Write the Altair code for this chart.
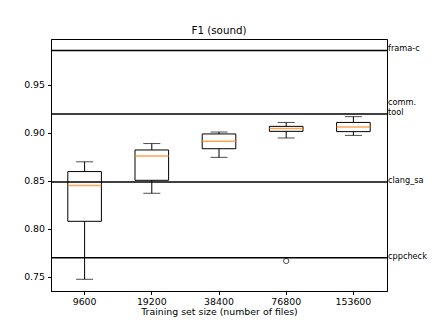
import altair as alt
import pandas as pd

categories = ["9600", "19200", "38400", "76800", "153600"]
whisker_low = [0.7476, 0.8372, 0.8746, 0.8948, 0.8975]
q1 = [0.8080, 0.8507, 0.8836, 0.9017, 0.9014]
median = [0.8452, 0.8760, 0.8913, 0.9048, 0.9063]
q3 = [0.8598, 0.8823, 0.8990, 0.9069, 0.9110]
whisker_high = [0.8700, 0.8890, 0.9010, 0.9110, 0.9170]

outlier_cat = ["76800"]
outlier_val = [0.7667]

baseline_names = ["frama-c", "comm.\ntool", "clang_sa", "cppcheck"]
baseline_vals = [0.986, 0.9198, 0.849, 0.770]

y_ticks = [0.75, 0.80, 0.85, 0.90, 0.95]

W, H = 336, 252
FONT = "DejaVu Sans"
LBL = 8.2

boxes = pd.DataFrame({
    "size": categories, "lo": whisker_low, "q1": q1, "med": median,
    "q3": q3, "hi": whisker_high,
})
outliers = pd.DataFrame({"size": outlier_cat, "v": outlier_val})
baselines = pd.DataFrame({"name": baseline_names, "v": baseline_vals})

yscale = alt.Scale(domain=[0.7354, 0.9979], nice=False, zero=False)
xscale = alt.Scale(domain=categories, paddingInner=0, paddingOuter=0)

x_enc = alt.X("size:N", scale=xscale, sort=categories,
              axis=alt.Axis(title="Training set size (number of files)", labelAngle=0,
                            domainColor="black", tickColor="black", tickSize=3.5,
                            labelColor="black", titleColor="black", labelFontSize=9.4,
                            titleFontSize=9.4, titleFontWeight="normal", labelFont=FONT,
                            titleFont=FONT, labelPadding=3, titlePadding=2))
y_axis = alt.Axis(title=None, values=y_ticks, format=".2f", grid=False,
                  domainColor="black", tickColor="black", tickSize=3.5,
                  labelColor="black", labelFontSize=9.4, labelFont=FONT, labelPadding=3)

base = alt.Chart(boxes)

whisk_lo = base.mark_rule(color="black", strokeWidth=1).encode(
    x=x_enc, y=alt.Y("lo:Q", scale=yscale, axis=y_axis), y2="q1:Q")
whisk_hi = base.mark_rule(color="black", strokeWidth=1).encode(
    x="size:N", y="q3:Q", y2="hi:Q")
cap_lo = base.mark_tick(color="black", size=17, thickness=1).encode(x="size:N", y="lo:Q")
cap_hi = base.mark_tick(color="black", size=17, thickness=1).encode(x="size:N", y="hi:Q")
box = base.mark_bar(fill="transparent", stroke="black", strokeWidth=1,
                    width=alt.RelativeBandSize(0.5)).encode(x="size:N", y="q1:Q", y2="q3:Q")
med = base.mark_tick(color="#ff7f0e", size=34, thickness=1.5).encode(x="size:N", y="med:Q")

outl = alt.Chart(outliers).mark_point(shape="circle", filled=False, color="black",
                                      size=28, strokeWidth=1).encode(x="size:N", y="v:Q")

rules = alt.Chart(baselines).mark_rule(color="black", strokeWidth=1.5).encode(
    y="v:Q", x=alt.value(0), x2=alt.value(W))

lbl_base = alt.Chart(baselines).transform_calculate(
    lines="split(datum.name, '\\n')", n="length(split(datum.name, '\\n'))"
)
labels_single = lbl_base.transform_filter("datum.n == 1").mark_text(
    align="left", baseline="alphabetic", fontSize=LBL, font=FONT,
    color="black", dx=1, dy=1).encode(y="v:Q", x=alt.value(W), text="name:N")
labels_multi = lbl_base.transform_filter("datum.n > 1").mark_text(
    align="left", baseline="alphabetic", fontSize=LBL, font=FONT,
    color="black", dx=1, dy=-9, lineHeight=10).encode(y="v:Q", x=alt.value(W), text="lines:N")

chart = alt.layer(whisk_lo, whisk_hi, cap_lo, cap_hi, box, med, outl, rules,
                  labels_single, labels_multi).properties(
    width=W, height=H,
    title=alt.Title("F1 (sound)", fontSize=10.3, font=FONT, fontWeight="normal",
                    color="black", offset=3),
    autosize=alt.AutoSizeParams(type="none"),
    padding={"left": 43, "top": 31, "right": 41, "bottom": 28},
).configure_view(stroke="black", strokeWidth=1)

chart.save("out.html", embed_options={"renderer": "svg", "actions": False})
